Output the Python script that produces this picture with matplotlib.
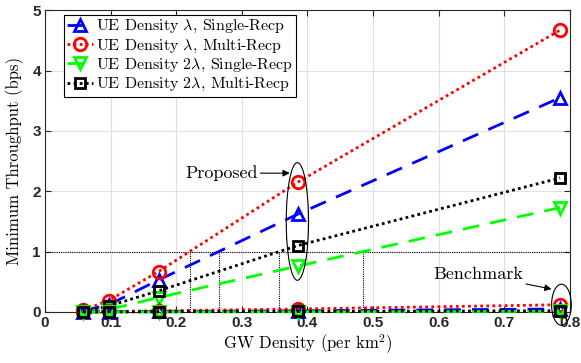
import numpy as np
import matplotlib
matplotlib.use("Agg")
import matplotlib.pyplot as plt
from matplotlib.patches import Ellipse

plt.rcParams['mathtext.fontset'] = 'cm'

gw_density = [0.058, 0.097, 0.173, 0.385, 0.785]

# Proposed scheme
prop_single_l = [0.02, 0.12, 0.53, 1.62, 3.55]
prop_multi_l = [0.03, 0.19, 0.67, 2.15, 4.67]
prop_single_2l = [0.00, 0.04, 0.24, 0.76, 1.73]
prop_multi_2l = [0.00, 0.10, 0.35, 1.10, 2.22]

# Benchmark scheme
bench_single_l = [0.00, 0.005, 0.01, 0.02, 0.05]
bench_multi_l = [0.00, 0.01, 0.02, 0.05, 0.12]
bench_single_2l = [0.00, 0.00, 0.00, 0.005, 0.01]
bench_multi_2l = [0.00, 0.00, 0.005, 0.01, 0.02]

labels = [r"UE Density $\lambda$, Single-Recp",
          r"UE Density $\lambda$, Multi-Recp",
          r"UE Density 2$\lambda$, Single-Recp",
          r"UE Density 2$\lambda$, Multi-Recp"]

threshold = 1.0

xticks = [0, 0.1, 0.2, 0.3, 0.4, 0.5, 0.6, 0.7, 0.8]
yticks = [0, 1, 2, 3, 4, 5]

fig = plt.figure(figsize=(5.81, 3.63), dpi=100)
ax = fig.add_axes([0.0775, 0.1405, 0.9035, 0.8315])

styles = [
    dict(color=(0, 0, 1), ls=(0, (6, 4)), marker='^', ms=9),
    dict(color=(1, 0, 0), ls=(0, (1, 1.2)), marker='o', ms=9),
    dict(color=(0, 1, 0), ls=(0, (6, 4)), marker='v', ms=9),
    dict(color=(0, 0, 0), ls=(0, (1, 1.2)), marker='s', ms=6.5),
]
prop = [prop_single_l, prop_multi_l, prop_single_2l, prop_multi_2l]
bench = [bench_single_l, bench_multi_l, bench_single_2l, bench_multi_2l]

# threshold guide lines
ax.plot([0, 0.8], [threshold, threshold], color='k', lw=0.8, ls=(0, (1, 1)), zorder=1)
for ys in prop:
    xc = np.interp(threshold, ys, gw_density)
    ax.plot([xc, xc], [0, threshold], color='k', lw=0.8, ls=(0, (1, 1)), zorder=1)

handles = []
for ys, st, lab in zip(prop, styles, labels):
    h, = ax.plot(gw_density, ys, color=st['color'], ls=st['ls'], lw=2,
                 marker=st['marker'], ms=st['ms'], mfc='none', mew=2,
                 mec=st['color'], label=lab, zorder=3)
    handles.append(h)
for ys, st in zip(bench, styles):
    ax.plot(gw_density, ys, color=st['color'], ls=st['ls'], lw=2,
            marker=st['marker'], ms=st['ms'], mfc='none', mew=2,
            mec=st['color'], zorder=3, clip_on=False)

# ellipses
ax.add_patch(Ellipse((0.3846, 1.5), 0.034, 1.95, fill=False, ec='k', lw=0.8, zorder=4))
ax.add_patch(Ellipse((0.787, 0.12), 0.03, 0.68, fill=False, ec='k', lw=0.8,
                     zorder=4, clip_on=False))

ax.annotate("Proposed", xy=(0.373, 2.3), xytext=(0.324, 2.3),
            fontsize=13, fontfamily='cmr10', ha='right', va='center',
            arrowprops=dict(arrowstyle='-|>', color='k', lw=0.8, mutation_scale=10,
                            shrinkA=0, shrinkB=0))
ax.annotate("Benchmark", xy=(0.772, 0.38), xytext=(0.729, 0.62),
            fontsize=13, fontfamily='cmr10', ha='right', va='center',
            arrowprops=dict(arrowstyle='-|>', color='k', lw=0.8, mutation_scale=10,
                            shrinkA=0, shrinkB=0))

ax.set_xlim(0, 0.8)
ax.set_ylim(0, 5)
ax.set_xticks(xticks)
ax.set_yticks(yticks)
ax.set_xticklabels([("%g" % t) for t in xticks])
ax.set_yticklabels([("%g" % t) for t in yticks])
for lbl in ax.get_xticklabels() + ax.get_yticklabels():
    lbl.set_fontfamily('Liberation Sans')
    lbl.set_fontweight('bold')
    lbl.set_fontsize(11)
ax.tick_params(direction='in', top=True, right=True, length=4, width=0.8, pad=3,
               colors='#262626')
ax.grid(True, color='#e0e0e0', lw=0.8)
ax.set_axisbelow(True)
for s in ax.spines.values():
    s.set_color('#262626')
    s.set_linewidth(0.8)

ax.set_xlabel(r"GW Density (per km$^2$)", fontsize=12, fontfamily='cmr10', labelpad=2)
ax.set_ylabel("Minimum Throughput (bps)", fontsize=12, fontfamily='cmr10', labelpad=6)

leg = ax.legend(handles=handles, loc='upper left', bbox_to_anchor=(0.03, 0.995),
                prop={'family': 'cmr10', 'size': 11.5}, frameon=True, fancybox=False,
                edgecolor='k', framealpha=1, borderpad=0.2, labelspacing=0.15,
                handlelength=1.6, handletextpad=0.2, borderaxespad=0.2)
leg.get_frame().set_linewidth(0.8)

fig.savefig("out.png", dpi=100)
